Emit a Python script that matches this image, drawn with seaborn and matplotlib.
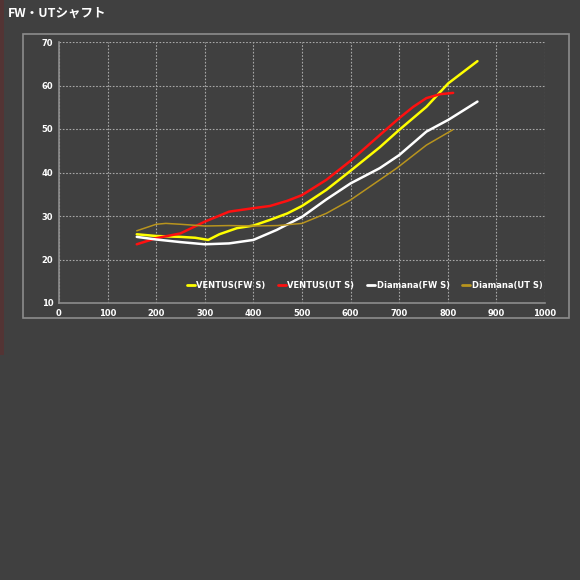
import matplotlib
matplotlib.use("Agg")
import matplotlib.pyplot as plt
import matplotlib.patches as patches
import pandas as pd
import seaborn as sns

# values
ventus_fw_x = [160, 200, 250, 280, 307, 330, 366, 400, 434, 470, 500, 550, 600, 660, 700, 756, 801, 861]
ventus_fw_y = [25.8, 25.4, 25.2, 25.0, 24.5, 25.8, 27.2, 27.8, 29.1, 30.6, 32.3, 36.0, 40.4, 45.8, 49.8, 55.1, 60.5, 65.6]

ventus_ut_x = [160, 200, 250, 300, 350, 400, 434, 470, 500, 550, 600, 660, 700, 729, 756, 784, 811]
ventus_ut_y = [23.5, 24.9, 26.0, 28.7, 31.0, 31.8, 32.3, 33.5, 34.8, 38.3, 42.7, 48.6, 52.5, 55.1, 57.1, 58.0, 58.3]

diamana_fw_x = [160, 200, 250, 300, 350, 400, 448, 500, 550, 600, 660, 700, 756, 801, 861]
diamana_fw_y = [25.2, 24.6, 24.0, 23.5, 23.7, 24.5, 26.8, 29.8, 33.8, 37.5, 41.0, 44.0, 49.4, 52.1, 56.3]

diamana_ut_x = [160, 200, 220, 250, 300, 350, 400, 450, 500, 550, 600, 660, 695, 756, 810]
diamana_ut_y = [26.6, 28.1, 28.3, 28.1, 27.7, 27.8, 27.7, 27.8, 28.3, 30.6, 33.7, 38.3, 41.0, 46.3, 49.8]

names = ["VENTUS(FW S)", "VENTUS(UT S)", "Diamana(FW S)", "Diamana(UT S)"]
colors = ["#ffff00", "#ff1010", "#ffffff", "#b8941e"]
widths = [1.8, 1.8, 1.8, 1.1]

rows = []
for name, xs, ys in zip(names,
                        [ventus_fw_x, ventus_ut_x, diamana_fw_x, diamana_ut_x],
                        [ventus_fw_y, ventus_ut_y, diamana_fw_y, diamana_ut_y]):
    for x, y in zip(xs, ys):
        rows.append({"x": x, "y": y, "shaft": name})
df = pd.DataFrame(rows)

bg = "#404040"
sns.set_style("dark")
plt.rcParams['font.family'] = ['DejaVu Sans', 'Noto Sans CJK JP']

fig = plt.figure(figsize=(5.8, 5.8), dpi=100, facecolor=bg)
ax = fig.add_axes([59/580, 1 - 303/580, (545 - 59)/580, (303 - 42)/580])
ax.set_facecolor(bg)

# outer chart frame and the red strip at the left edge
fig.patches.append(patches.Rectangle((23/580, 1 - 318/580), (569 - 23)/580, (318 - 34)/580,
                                     transform=fig.transFigure, fill=False,
                                     edgecolor="#8c8c8c", linewidth=1.2))
fig.patches.append(patches.Rectangle((0, 1 - 355/580), 4/580, 355/580,
                                     transform=fig.transFigure, color="#533434", linewidth=0))

sns.lineplot(data=df, x="x", y="y", hue="shaft", hue_order=names, palette=colors,
             estimator=None, sort=False, ax=ax, legend=False)
for line, w in zip(ax.get_lines(), widths):
    line.set_linewidth(w)
    line.set_solid_joinstyle("round")

ax.set_xlim(0, 1000)
ax.set_ylim(10, 70)
ax.set_xticks(range(0, 1001, 100))
ax.set_yticks(range(10, 71, 10))
ax.grid(True, color="#a8a8a8", linestyle=(0, (1.5, 1.5)), linewidth=0.8)
ax.tick_params(colors="white", labelsize=6, length=0, pad=4)
for lab in ax.get_xticklabels() + ax.get_yticklabels():
    lab.set_fontweight("bold")
ax.set_xlabel("")
ax.set_ylabel("")
for side in ["top", "right"]:
    ax.spines[side].set_visible(False)
for side in ["left", "bottom"]:
    ax.spines[side].set_color("#8c8c8c")
    ax.spines[side].set_linewidth(1.2)

handles = [plt.Line2D([], [], color=c, linewidth=2) for c in colors]
leg = ax.legend(handles, names, ncol=4, loc="lower right", bbox_to_anchor=(1.01, 0.02),
                frameon=False, handlelength=1.0, handletextpad=0.15, columnspacing=1.5,
                prop={"family": "DejaVu Sans", "size": 6, "weight": "bold"})
for t in leg.get_texts():
    t.set_color("white")

fig.text(8/580, 1 - 13/580, "FW・UTシャフト", color="white", fontsize=9,
         fontweight="bold", va="center", ha="left",
         family=["Noto Sans CJK JP", "DejaVu Sans"])

fig.savefig("out.png", dpi=100, facecolor=bg)
